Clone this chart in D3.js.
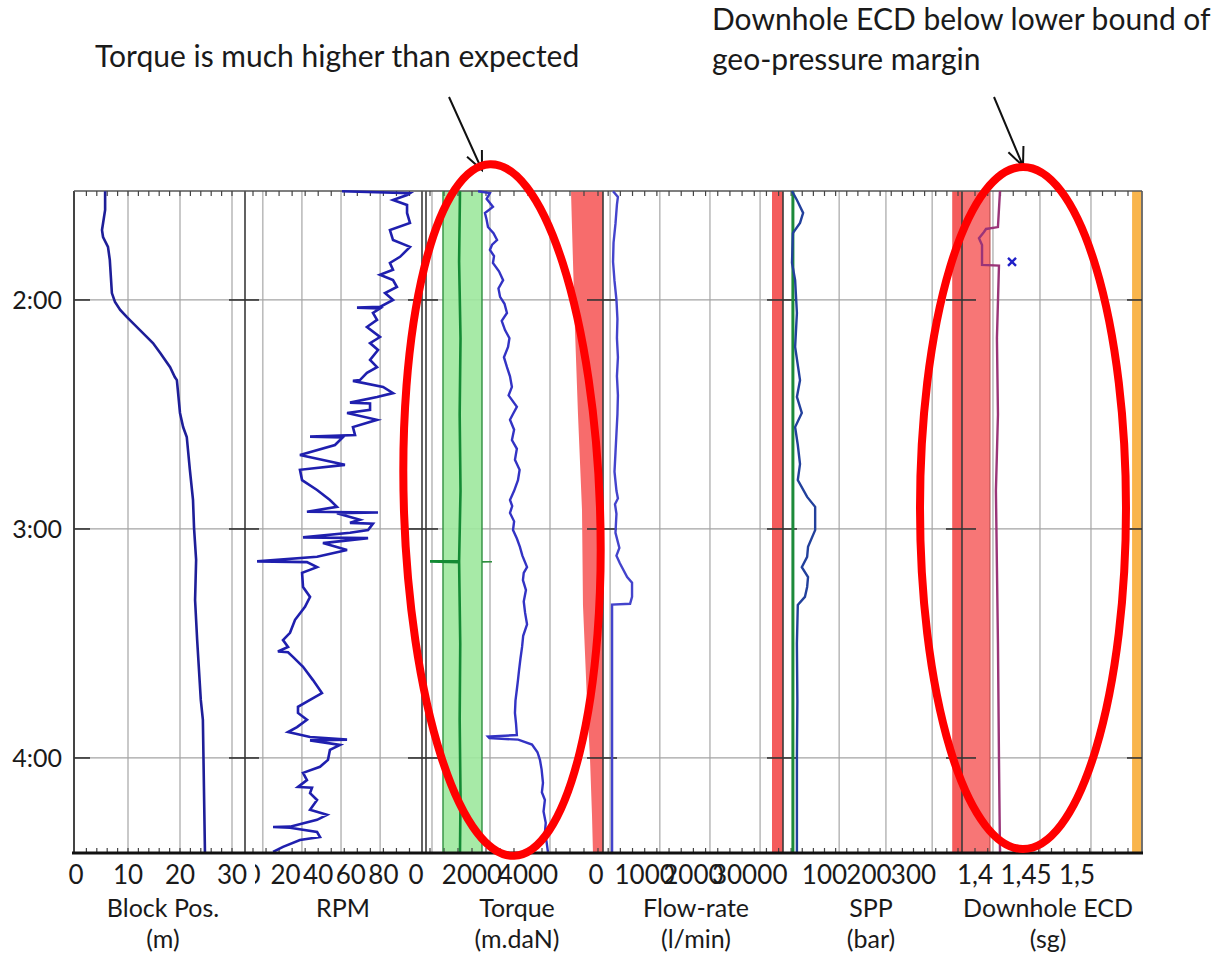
<!DOCTYPE html>
<html>
<head>
<meta charset="utf-8">
<script src="https://cdn.jsdelivr.net/npm/d3@7"></script>
<style>
  html, body { margin: 0; padding: 0; background: #ffffff; }
  svg { display: block; }
  text { font-family: Lato, "Open Sans", sans-serif; fill: #1a1a1a; }
</style>
</head>
<body>
<svg id="chart" width="1226" height="955"></svg>
<script>
// ---- time axis (minutes after midnight) ----
const timeDomain = [91.45, 264.9];
const hourTicks = [120, 180, 240];
const hourLabels = ["2:00", "3:00", "4:00"];

// ---- Block position (m): [time, value] ----
const blockSeries = [[91.5,5.6],[96.4,5.6],[101.7,5.0],[103.5,5.2],[106.1,6.15],[109.5,6.5],[118.2,6.9],
  [120.5,7.5],[122.6,8.5],[124.5,9.8],[127.9,12.3],[131.3,14.8],[133.9,16.2],[137.6,18.1],[140.2,19.0],
  [141.0,19.4],[149.6,20.0],[153.3,20.6],[155.9,21.3],[164.5,21.9],[172.4,22.5],[179.7,22.7],[188.1,23.1],
  [198.6,22.9],[209.1,23.3],[224.8,24.0],[230.0,24.4],[264.9,24.8]];

// ---- RPM: [time, value] ----
const rpmSeries = [[91.5,54.6],[92.0,96.3],[92.5,94.5],[93.8,85.9],[95.1,94.5],[97.2,94.5],[99.8,96.3],
  [101.7,84.0],[104.3,85.9],[106.1,96.3],[108.7,90.2],[110.3,84.0],[112.1,85.9],[113.4,77.9],[114.8,85.9],
  [116.6,88.3],[118.2,81.0],[120.0,85.9],[121.8,77.9],[122.0,63.8],[122.2,77.9],[123.4,73.6],[125.2,76.1],
  [127.1,69.9],[129.7,77.9],[131.3,71.8],[133.1,76.7],[135.7,71.8],[137.6,76.1],[139.1,69.9],[141.0,65.6],
  [141.2,61.3],[142.8,79.8],[144.4,85.9],[145.4,76.1],[146.9,59.5],[147.1,71.8],[148.8,71.8],[149.6,57.7],
  [151.4,76.1],[153.3,61.3],[155.4,62.6],[155.8,35.0],[156.0,55.0],[158.0,50.3],[160.6,28.8],[163.2,56.4],
  [164.5,28.8],[167.2,30.1],[169.8,39.3],[172.4,47.2],[174.2,51.5],[175.5,33.1],[175.7,76.7],[175.9,51.5],
  [177.6,65.6],[178.4,59.5],[178.6,73.6],[180.3,70.6],[181.0,59.5],[182.2,30.7],[182.4,70.6],[183.7,42.9],
  [185.5,57.7],[187.3,39.3],[188.5,2.5],[188.7,33.1],[190.0,39.3],[191.5,30.1],[195.2,30.7],[197.8,35.0],
  [200.4,31.9],[203.8,25.8],[207.2,22.7],[209.1,18.4],[210.9,21.5],[212.1,15.3],[212.3,21.5],[213.5,24.5],
  [216.1,30.7],[219.6,36.8],[223.0,42.3],[224.8,35.0],[226.6,27.6],[228.2,27.6],[230.0,33.1],[231.9,27.0],
  [233.2,21.5],[234.5,35.0],[235.2,57.7],[235.4,35.0],[236.6,53.4],[237.9,47.2],[240.5,46.0],[242.3,41.1],
  [243.9,30.7],[245.8,33.1],[247.6,27.6],[247.8,36.2],[249.2,35.0],[251.0,39.3],[253.6,35.0],[254.9,45.4],
  [256.2,39.3],[258.0,22.7],[258.1,12.3],[258.3,22.7],[259.4,39.3],[260.7,41.1],[261.5,28.8],[263.3,18.4],
  [264.6,12.3]];

// ---- Torque (m.daN): measured, expected band, upper limit ----
const torqueSeries = [[91.5,2218],[92.0,2640],[93.5,2522],[95.6,2748],[97.2,2463],[99.0,2522],[100.9,2571],
  [102.5,2768],[104.3,2895],[105.5,2719],[106.9,2640],[108.5,2787],[110.3,2748],[112.5,2964],[114.8,3112],
  [117.0,2945],[119.2,3003],[121.0,3161],[123.4,3249],[125.5,3062],[127.9,3180],[130.0,3337],[132.3,3288],
  [135.0,3141],[137.6,3249],[140.0,3357],[142.8,3426],[145.0,3308],[148.0,3603],[150.0,3455],[151.4,3357],
  [154.0,3504],[156.7,3426],[159.0,3603],[161.9,3534],[164.5,3701],[167.2,3642],[170.0,3504],[172.4,3357],
  [174.0,3436],[175.8,3357],[178.0,3504],[180.3,3465],[182.5,3603],[184.7,3711],[187.0,3799],[190.0,3966],
  [191.5,3848],[193.4,3819],[196.0,3927],[199.0,3848],[202.0,3897],[205.0,3966],[208.0,3828],[210.9,3789],
  [214.0,3730],[217.0,3681],[219.6,3642],[222.0,3603],[225.0,3553],[228.2,3534],[231.0,3573],[234.0,3603],
  [234.4,2571],[234.8,2621],[235.2,3652],[236.5,4143],[238.5,4339],[240.5,4427],[243.0,4486],[246.5,4535],
  [249.0,4496],[251.0,4604],[254.0,4555],[257.0,4634],[259.6,4604],[262.0,4663],[264.6,4712]];
const torqueExpMid = [[91.5,1571],[110,1540],[130,1590],[150,1560],[170,1590],[188.4,1540],[188.5,500],
  [188.7,1540],[210,1580],[230,1560],[250,1590],[264.9,1571]];
const torqueExpLow = [[91.5,964],[264.9,964]];
const torqueExpHigh = [[91.5,2357],[188.5,2357],[188.6,2714],[188.7,2357],[264.9,2357]];
const torqueLimit = [[91.5,5536],[110,5607],[128,5679],[150,5786],[175,5929],[200,5964],[225,6107],
  [240,6214],[255,6286],[264.9,6321]];

// ---- Flow-rate (l/min) ----
const flowSeries = [[91.5,350],[93,450],[95,430],[100,400],[105,360],[110,350],[115,380],[120,420],
  [125,440],[130,430],[135,450],[140,430],[145,450],[150,440],[155,420],[160,400],[165,380],[170,420],
  [172,450],[173.5,390],[176,420],[181,400],[185,480],[187,420],[189,490],[192.6,640],[194.1,740],
  [197.8,740],[199.6,700],[199.8,330],[264.9,330]];
const flowLimit = [3614, 3840];

// ---- SPP (bar) ----
const sppSeries = [[91.5,27],[93.8,38],[97.2,52],[99.8,45],[102.5,29],[110.3,27],[114.8,34],[123.4,38],
  [132.3,34],[141.0,45],[145.4,38],[149.6,49],[153.3,34],[158,40],[163,45],[167.2,40],[171.6,61],
  [174.2,79],[180.3,79],[184.7,63],[187.3,61],[190.0,49],[192.6,63],[195.2,61],[197.8,56],[199.9,40],
  [210,38],[225,39],[240,38],[264.9,38]];
const sppExpected = [[91.5,29],[264.9,29]];
const sppLimit = [387, 409];

// ---- Downhole ECD (sg) ----
const ecdSeries = [[91.5,1.4245],[100.9,1.4225],[101.4,1.4108],[102.2,1.4088],[103.8,1.4039],
  [105.6,1.4069],[110.8,1.4069],[111.0,1.4235],[130,1.4215],[150,1.4225],[170,1.4205],[190,1.4215],
  [210,1.4225],[240,1.4235],[264.9,1.4245]];
const ecdMarker = [110.0, 1.4363];
const ecdLowerBound = [1.3873, 1.4147];
const ecdUpperBound = [1.554, 1.563];

// ---- tick labels and grid values per track ----
const blockTicks = [0, 10, 20, 30];
const rpmTicks = [0, 20, 40, 60, 80];
const torqueTicks = [0, 2000, 4000];
const flowTicks = [0, 1000, 2000, 3000];
const sppTicks = [0, 100, 200, 300];
const ecdTicks = [1.4, 1.45, 1.5];

const blockGrid = [10, 20, 30];
const rpmGrid = [6, 30, 54, 78];
const torqueGrid = [571, 2643, 4786];
const flowGrid = [290, 1310, 2340, 3370];
const sppGrid = [133, 238, 342];
const ecdGrid = [1.4176, 1.4637, 1.5137];

const trackTitles = [["Block Pos.", "(m)"], ["RPM", ""], ["Torque", "(m.daN)"],
  ["Flow-rate", "(l/min)"], ["SPP", "(bar)"], ["Downhole ECD", "(sg)"]];

// ---------------- layout ----------------
const svg = d3.select("#chart");
const plotTop = 191, plotBottom = 853, plotLeft = 74, plotRight = 1142;

const y = d3.scaleLinear().domain(timeDomain).range([plotTop, plotBottom]);

const xBlock  = d3.scaleLinear().domain([0, 32.5]).range([76, 245]);
const xRpm    = d3.scaleLinear().domain([0, 103]).range([253, 420.9]);
const xTorque = d3.scaleLinear().domain([0, 6679]).range([416, 603]);
const xFlow   = d3.scaleLinear().domain([0, 3840]).range([596, 783]);
const xSpp    = d3.scaleLinear().domain([0, 409]).range([780, 962]);
const xEcd    = d3.scaleLinear().domain([1.4, 1.565]).range([975, 1143.3]);

const tracks = [
  {x: xBlock,  x0: 74,  x1: 245,  grid: blockGrid,  ticks: blockTicks,  fmt: d3.format("d"), title: trackTitles[0], cx: 163, minor: 2},
  {x: xRpm,    x0: 245, x1: 422,  grid: rpmGrid,    ticks: rpmTicks,    fmt: d3.format("d"), title: trackTitles[1], cx: 343, minor: 8, clipFrom: 255},
  {x: xTorque, x0: 426, x1: 603,  grid: torqueGrid, ticks: torqueTicks, fmt: d3.format("d"), title: trackTitles[2], cx: 517, minor: 500},
  {x: xFlow,   x0: 603, x1: 783,  grid: flowGrid,   ticks: flowTicks,   fmt: d3.format("d"), title: trackTitles[3], cx: 696, minor: 250},
  {x: xSpp,    x0: 783, x1: 962,  grid: sppGrid,    ticks: sppTicks,    fmt: d3.format("d"), title: trackTitles[4], cx: 871, minor: 25},
  {x: xEcd,    x0: 962, x1: plotRight, grid: ecdGrid, ticks: ecdTicks,
     fmt: d3.formatLocale({decimal: ",", thousands: ".", grouping: [3], currency: ["", ""]}).format("~g"),
     title: trackTitles[5], cx: 1048, minor: 0.0125}
];

svg.append("rect").attr("width", 1226).attr("height", 955).attr("fill", "#ffffff");

const plot = svg.append("g");

// vertical grid lines
tracks.forEach(t => {
  plot.selectAll(null).data(t.grid).join("line")
    .attr("x1", d => t.x(d)).attr("x2", d => t.x(d))
    .attr("y1", plotTop).attr("y2", plotBottom)
    .attr("stroke", "#bcbcbc").attr("stroke-width", 1.6);
});

// hour grid lines
plot.selectAll(null).data(hourTicks).join("line")
  .attr("x1", plotLeft).attr("x2", plotRight)
  .attr("y1", d => y(d)).attr("y2", d => y(d))
  .attr("stroke", "#a3a3a3").attr("stroke-width", 1.3);

// ---- bands ----
const bandArea = (xs, lo, hi) => d3.area().y(d => y(d[0])).x0(d => xs(lo(d))).x1(d => xs(hi(d)));
const fullSpan = [[timeDomain[0]], [timeDomain[1]]];

// expected torque band
plot.append("path")
  .datum(fullSpan)
  .attr("d", bandArea(xTorque, () => torqueExpLow[0][1], () => torqueExpHigh[0][1]))
  .attr("fill", "#9de89d").attr("opacity", 0.9);

// upper torque limit
plot.append("path")
  .datum(torqueLimit)
  .attr("d", bandArea(xTorque, d => d[1], () => xTorque.domain()[1]))
  .attr("fill", "#f76c6c");

// flow limit
plot.append("path").datum(fullSpan)
  .attr("d", bandArea(xFlow, () => flowLimit[0], () => flowLimit[1]))
  .attr("fill", "#f45c5c");

// SPP limit
plot.append("path").datum(fullSpan)
  .attr("d", bandArea(xSpp, () => sppLimit[0], () => sppLimit[1]))
  .attr("fill", "#f45c5c");

// ECD geo-pressure margin bounds
plot.append("path").datum(fullSpan)
  .attr("d", bandArea(xEcd, () => ecdLowerBound[0], () => ecdLowerBound[1]))
  .attr("fill", "#f77676");
plot.append("path").datum(fullSpan)
  .attr("d", bandArea(xEcd, () => ecdUpperBound[0], () => ecdUpperBound[1]))
  .attr("fill", "#f9b54c");

// dark line along ECD lower bound edge
plot.append("line")
  .attr("x1", xEcd(ecdLowerBound[1])).attr("x2", xEcd(ecdLowerBound[1]))
  .attr("y1", plotTop).attr("y2", plotBottom)
  .attr("stroke", "#b44848").attr("stroke-width", 1);

// ---- track separators and frame ----
const separators = [245, 422, 426, 603, 783, 962];
plot.selectAll(null).data(separators).join("line")
  .attr("x1", d => d).attr("x2", d => d).attr("y1", plotTop).attr("y2", plotBottom)
  .attr("stroke", "#3a3a3a").attr("stroke-width", 1.6);

plot.append("line").attr("x1", plotLeft).attr("x2", plotLeft).attr("y1", plotTop).attr("y2", plotBottom)
  .attr("stroke", "#444").attr("stroke-width", 2);
plot.append("line").attr("x1", plotRight).attr("x2", plotRight).attr("y1", plotTop).attr("y2", plotBottom)
  .attr("stroke", "#444").attr("stroke-width", 1.5);
plot.append("line").attr("x1", plotLeft).attr("x2", plotRight).attr("y1", plotTop).attr("y2", plotTop)
  .attr("stroke", "#555").attr("stroke-width", 1.5);

// minor ticks along top and bottom
tracks.forEach(t => {
  const [d0, d1] = [t.x.invert(t.x0), t.x.invert(t.x1)];
  const start = Math.ceil(d0 / t.minor) * t.minor;
  const vals = d3.range(start, d1, t.minor).filter(v => t.x(v) > t.x0 + 3 && t.x(v) < t.x1 - 3);
  plot.selectAll(null).data(vals).join("line")
    .attr("x1", d => t.x(d)).attr("x2", d => t.x(d))
    .attr("y1", plotTop).attr("y2", plotTop + 5)
    .attr("stroke", "#444").attr("stroke-width", 1.2);
  plot.selectAll(null).data(vals).join("line")
    .attr("x1", d => t.x(d)).attr("x2", d => t.x(d))
    .attr("y1", plotBottom - 5).attr("y2", plotBottom)
    .attr("stroke", "#444").attr("stroke-width", 1.2);
});

// hour ticks at frame edges and separators
const tickAnchors = [[plotLeft, plotLeft + 16], [plotRight - 15, plotRight]]
  .concat([245, 424, 603, 783, 962].map(s => [s - 16, s + 14]));
hourTicks.forEach(h => {
  plot.selectAll(null).data(tickAnchors).join("line")
    .attr("x1", d => d[0]).attr("x2", d => d[1])
    .attr("y1", y(h)).attr("y2", y(h))
    .attr("stroke", "#333").attr("stroke-width", 1.6);
});

// ---- curves ----
const lineOf = xs => d3.line().x(d => xs(d[1])).y(d => y(d[0]));

// expected torque band edges and centre
plot.append("path").datum(torqueExpLow).attr("d", lineOf(xTorque))
  .attr("fill", "none").attr("stroke", "#2f8f3f").attr("stroke-width", 1.4);
plot.append("path").datum(torqueExpHigh).attr("d", lineOf(xTorque))
  .attr("fill", "none").attr("stroke", "#2f8f3f").attr("stroke-width", 1.4);
plot.append("path").datum(torqueExpMid).attr("d", lineOf(xTorque))
  .attr("fill", "none").attr("stroke", "#138a34").attr("stroke-width", 2.6);

plot.append("path").datum(blockSeries).attr("d", lineOf(xBlock))
  .attr("fill", "none").attr("stroke", "#1e1e98").attr("stroke-width", 2.6);
plot.append("path").datum(rpmSeries).attr("d", lineOf(xRpm))
  .attr("fill", "none").attr("stroke", "#1f1fae").attr("stroke-width", 2.6);
plot.append("path").datum(torqueSeries).attr("d", lineOf(xTorque))
  .attr("fill", "none").attr("stroke", "#3333c4").attr("stroke-width", 2.4);
plot.append("path").datum(flowSeries).attr("d", lineOf(xFlow))
  .attr("fill", "none").attr("stroke", "#4444cc").attr("stroke-width", 2.4);

plot.append("path").datum(sppExpected).attr("d", lineOf(xSpp))
  .attr("fill", "none").attr("stroke", "#1c8a3a").attr("stroke-width", 3);
plot.append("path").datum(sppSeries).attr("d", lineOf(xSpp))
  .attr("fill", "none").attr("stroke", "#22409c").attr("stroke-width", 2.4);

plot.append("path").datum(ecdSeries).attr("d", lineOf(xEcd))
  .attr("fill", "none").attr("stroke", "#9a3478").attr("stroke-width", 2.4);

// ECD sample marker
const mx = xEcd(ecdMarker[1]), my = y(ecdMarker[0]);
plot.append("path")
  .attr("d", `M${mx - 4},${my - 4}L${mx + 4},${my + 4}M${mx - 4},${my + 4}L${mx + 4},${my - 4}`)
  .attr("stroke", "#2020c8").attr("stroke-width", 2.4);

// bottom axis line
plot.append("line").attr("x1", plotLeft - 2).attr("x2", plotRight + 1).attr("y1", plotBottom).attr("y2", plotBottom)
  .attr("stroke", "#111").attr("stroke-width", 3);

// ---- labels ----
svg.selectAll(null).data(hourTicks).join("text")
  .attr("x", 62).attr("y", d => y(d)).attr("dy", "0.36em")
  .attr("text-anchor", "end").attr("font-size", 25)
  .text((d, i) => hourLabels[i]);

const defs = svg.append("defs");
tracks.forEach((t, i) => {
  const g = svg.append("g");
  if (t.clipFrom !== undefined) {
    defs.append("clipPath").attr("id", "tickclip" + i)
      .append("rect").attr("x", t.clipFrom).attr("y", 850).attr("width", t.x1 - t.clipFrom).attr("height", 50);
    g.attr("clip-path", `url(#tickclip${i})`);
  }
  g.selectAll(null).data(t.ticks).join("text")
    .attr("x", d => t.x(d)).attr("y", 884)
    .attr("text-anchor", "middle").attr("font-size", 26)
    .text(d => t.fmt(d));
  svg.append("text").attr("x", t.cx).attr("y", 917).attr("text-anchor", "middle")
    .attr("font-size", 25).text(t.title[0]);
  if (t.title[1]) {
    svg.append("text").attr("x", t.cx).attr("y", 948).attr("text-anchor", "middle")
      .attr("font-size", 25).text(t.title[1]);
  }
});

// ---- annotations ----
const notes = svg.append("g");
notes.append("text").attr("x", 95).attr("y", 67).attr("font-size", 30)
  .text("Torque is much higher than expected");
notes.append("text").attr("x", 712).attr("y", 30).attr("font-size", 30)
  .text("Downhole ECD below lower bound of");
notes.append("text").attr("x", 712).attr("y", 70).attr("font-size", 30)
  .text("geo-pressure margin");

function arrow(x1, y1, x2, y2) {
  const a = Math.atan2(y2 - y1, x2 - x1), L = 20, s = 0.42;
  notes.append("path")
    .attr("d", `M${x1},${y1}L${x2},${y2}` +
      `M${x2 - L * Math.cos(a - s)},${y2 - L * Math.sin(a - s)}L${x2},${y2}` +
      `L${x2 - L * Math.cos(a + s)},${y2 - L * Math.sin(a + s)}`)
    .attr("fill", "none").attr("stroke", "#111").attr("stroke-width", 2);
}
arrow(449, 97, 482, 170);
arrow(994, 97, 1023, 166);

notes.append("ellipse").attr("cx", 0).attr("cy", 0).attr("rx", 98).attr("ry", 346)
  .attr("transform", "translate(502,510) rotate(-2)")
  .attr("fill", "none").attr("stroke", "#ff0000").attr("stroke-width", 8);
notes.append("ellipse").attr("cx", 1023).attr("cy", 508).attr("rx", 103).attr("ry", 341)
  .attr("fill", "none").attr("stroke", "#ff0000").attr("stroke-width", 8);
</script>
</body>
</html>
